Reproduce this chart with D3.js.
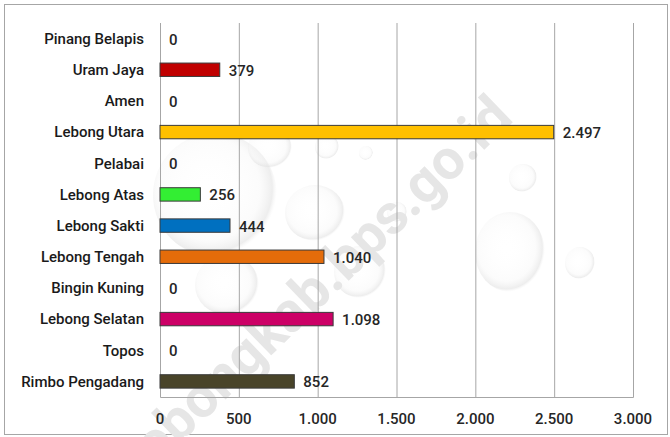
<!DOCTYPE html>
<html>
<head>
<meta charset="utf-8">
<script src="https://cdn.jsdelivr.net/npm/d3@7"></script>
<style>
  body { margin: 0; background: #fff; }
  svg { display: block; }
  text { font-family: Roboto, "Noto Sans", sans-serif; font-weight: 500; }
</style>
</head>
<body>
<div id="chart"></div>
<script>
// data
var categories = ['Pinang Belapis', 'Uram Jaya', 'Amen', 'Lebong Utara', 'Pelabai', 'Lebong Atas',
  'Lebong Sakti', 'Lebong Tengah', 'Bingin Kuning', 'Lebong Selatan', 'Topos', 'Rimbo Pengadang']
var values = [0, 379, 0, 2497, 0, 256, 444, 1040, 0, 1098, 0, 852]
var colors = ['#ffffff', '#c00000', '#ffffff', '#ffc000', '#ffffff', '#33ee33',
  '#0070c0', '#e46c0a', '#ffffff', '#cc0066', '#ffffff', '#494429']
var ticks = [0, 500, 1000, 1500, 2000, 2500, 3000]

// background drops (decoration only)
var drops = [
  {x: 215, y: 195, rx: 62, ry: 62}, {x: 270, y: 148, rx: 22, ry: 20}, {x: 327, y: 147, rx: 12, ry: 12},
  {x: 366, y: 153, rx: 7, ry: 7}, {x: 315, y: 213, rx: 30, ry: 28}, {x: 397, y: 212, rx: 10, ry: 10},
  {x: 360, y: 272, rx: 26, ry: 26}, {x: 227, y: 285, rx: 32, ry: 30}, {x: 523, y: 178, rx: 14, ry: 14},
  {x: 510, y: 252, rx: 35, ry: 40}, {x: 580, y: 263, rx: 15, ry: 16}
]

var W = 670, H = 437
var margin = {left: 160, right: 37, top: 23, bottom: 40}

var fmt = function (d) { return d3.format(',')(d).replace(/,/g, '.') }

var rows = categories.map((c, i) => ({cat: c, value: values[i], color: colors[i]}))

var svg = d3.select('#chart').append('svg')
  .attr('width', W)
  .attr('height', H)

var defs = svg.append('defs')
var grad = defs.append('radialGradient').attr('id', 'drop')
  .attr('cx', '45%').attr('cy', '45%').attr('r', '55%')
grad.append('stop').attr('offset', '0%').attr('stop-color', '#ffffff').attr('stop-opacity', 0)
grad.append('stop').attr('offset', '75%').attr('stop-color', '#f6f6f6').attr('stop-opacity', 0.4)
grad.append('stop').attr('offset', '93%').attr('stop-color', '#e2e2e2').attr('stop-opacity', 0.6)
grad.append('stop').attr('offset', '100%').attr('stop-color', '#f0f0f0').attr('stop-opacity', 0)

// outer frame
svg.append('rect')
  .attr('x', 4.5).attr('y', 4.5)
  .attr('width', W - 7).attr('height', H - 7)
  .attr('fill', '#fff')
  .attr('stroke', '#a6a6a6')

svg.append('g').selectAll('ellipse')
  .data(drops)
  .join('ellipse')
  .attr('cx', d => d.x).attr('cy', d => d.y)
  .attr('rx', d => d.rx).attr('ry', d => d.ry)
  .attr('fill', 'url(#drop)')

// watermark
svg.append('text')
  .attr('transform', 'translate(515,120) rotate(-44)')
  .attr('text-anchor', 'end')
  .attr('font-size', 56)
  .style('font-weight', 700)
  .attr('fill', '#e6e6e6')
  .text('lebongkab.bps.go.id')

var x = d3.scaleLinear()
  .domain([0, 3000])
  .range([margin.left, W - margin.right])

var y = d3.scaleBand()
  .domain(categories)
  .range([margin.top, H - margin.bottom])
  .paddingInner(0.57)
  .paddingOuter(0.285)

var yBand = d3.scaleBand()
  .domain(categories)
  .range([margin.top, H - margin.bottom])

// gridlines
svg.append('g')
  .attr('transform', 'translate(0,' + (H - margin.bottom) + ')')
  .call(d3.axisBottom(x).tickValues(ticks).tickSize(-(H - margin.bottom - margin.top)).tickFormat(''))
  .call(g => g.select('.domain').attr('stroke', '#a6a6a6'))
  .call(g => g.selectAll('.tick line').attr('stroke', '#a6a6a6'))

svg.append('line')
  .attr('x1', x(0) + 0.5).attr('x2', x(0) + 0.5)
  .attr('y1', margin.top).attr('y2', H - margin.bottom)
  .attr('stroke', '#a6a6a6')

// tick labels
svg.append('g')
  .selectAll('text')
  .data(ticks)
  .join('text')
  .attr('x', d => x(d))
  .attr('y', H - margin.bottom + 27)
  .attr('text-anchor', 'middle')
  .attr('font-size', 15)
  .attr('fill', '#262626')
  .text(fmt)

// bars
svg.append('g')
  .selectAll('rect')
  .data(rows.filter(d => d.value > 0))
  .join('rect')
  .attr('x', x(0))
  .attr('y', d => y(d.cat))
  .attr('width', d => x(d.value) - x(0))
  .attr('height', y.bandwidth())
  .attr('fill', d => d.color)
  .attr('stroke', '#3a3a3a')
  .attr('stroke-width', 1)

// category labels
svg.append('g')
  .selectAll('text')
  .data(rows)
  .join('text')
  .attr('x', margin.left - 16)
  .attr('y', d => yBand(d.cat) + yBand.bandwidth() / 2)
  .attr('dy', '0.35em')
  .attr('text-anchor', 'end')
  .attr('font-size', 15)
  .attr('fill', '#1a1a1a')
  .text(d => d.cat)

// value labels
svg.append('g')
  .selectAll('text')
  .data(rows)
  .join('text')
  .attr('x', d => x(d.value) + 9)
  .attr('y', d => yBand(d.cat) + yBand.bandwidth() / 2)
  .attr('dy', '0.4em')
  .attr('font-size', 15)
  .attr('fill', '#262626')
  .text(d => fmt(d.value))
</script>
</body>
</html>
